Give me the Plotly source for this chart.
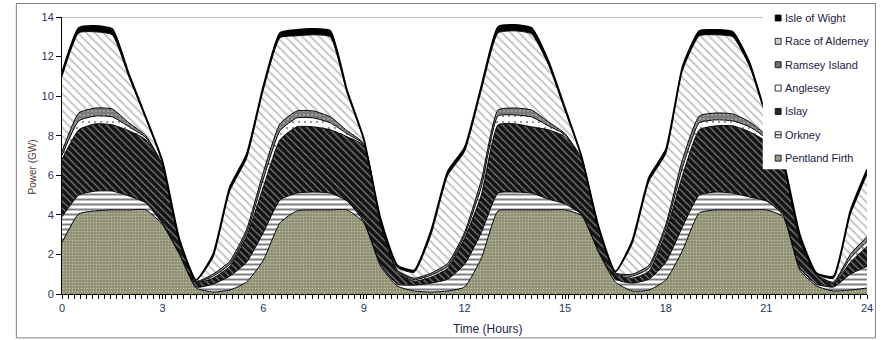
import plotly.graph_objects as go

hours = [0, 0.5, 1, 1.5, 2, 2.5, 3, 3.5, 4, 4.5, 5, 5.5, 6, 6.5, 7, 7.5, 8, 8.5,
         9, 9.5, 10, 10.5, 11, 11.5, 12, 12.5, 13, 13.5, 14, 14.5, 15, 15.5, 16,
         16.5, 17, 17.5, 18, 18.5, 19, 19.5, 20, 20.5, 21, 21.5, 22, 22.5, 23, 23.5, 24]

pentland = [2.6, 4.05, 4.2, 4.25, 4.25, 4.25, 3.5, 2.0, 0.3,
            0.1, 0.2, 0.6, 1.7, 3.6, 4.2, 4.25, 4.25, 4.25,
            3.6, 1.4, 0.4, 0.15, 0.1, 0.15, 0.35, 1.8, 4.2,
            4.25, 4.25, 4.25, 4.25, 3.95, 2.1, 0.6, 0.15, 0.2,
            0.7, 2.2, 4.1, 4.25, 4.25, 4.25, 4.25, 3.9, 1.2,
            0.4, 0.15, 0.2, 0.3]
orkney = [1.3, 0.95, 1.0, 0.95, 0.7, 0.35, 0.05, 0.05, 0.05,
          0.4, 0.7, 1.0, 1.4, 1.15, 0.9, 0.9, 0.85, 0.45,
          0.05, 0.1, 0.1, 0.3, 0.45, 0.6, 1.15, 1.3, 0.9,
          0.9, 0.85, 0.55, 0.3, 0.05, 0.05, 0.15, 0.4, 0.55,
          0.9, 1.2, 0.9, 0.9, 0.85, 0.65, 0.45, 0.1, 0.1,
          0.1, 0.2, 0.8, 1.1]
islay = [2.9, 3.3, 3.4, 3.35, 3.3, 3.2, 2.85, 0.55, 0.25,
         0.3, 0.5, 1.3, 2.3, 3.05, 3.35, 3.3, 3.2, 3.25,
         3.85, 2.0, 0.6, 0.2, 0.3, 0.55, 1.3, 1.9, 3.45,
         3.45, 3.35, 3.5, 3.4, 2.7, 1.05, 0.25, 0.25, 0.4,
         1.5, 2.6, 3.3, 3.35, 3.4, 3.3, 3.0, 2.5, 1.4,
         0.4, 0.15, 0.6, 1.0]
anglesey = [0.2, 0.45, 0.4, 0.4, 0.2, 0.1, 0.05, 0.03, 0.02,
            0.1, 0.1, 0.15, 0.4, 0.45, 0.45, 0.45, 0.35, 0.15,
            0.05, 0.05, 0.05, 0.07, 0.1, 0.1, 0.15, 0.4, 0.45,
            0.45, 0.5, 0.2, 0.1, 0.05, 0.05, 0.03, 0.1, 0.15,
            0.2, 0.4, 0.35, 0.3, 0.25, 0.25, 0.15, 0.05, 0.05,
            0.03, 0.05, 0.2, 0.25]
ramsey = [0.2, 0.4, 0.4, 0.4, 0.2, 0.1, 0.05, 0.03, 0.03,
          0.1, 0.15, 0.2, 0.35, 0.35, 0.35, 0.35, 0.3, 0.15,
          0.05, 0.05, 0.05, 0.08, 0.1, 0.15, 0.15, 0.35, 0.3,
          0.35, 0.35, 0.2, 0.05, 0.05, 0.05, 0.04, 0.1, 0.15,
          0.2, 0.4, 0.35, 0.35, 0.35, 0.25, 0.15, 0.05, 0.05,
          0.03, 0.05, 0.2, 0.25]
alderney = [3.8, 4.05, 3.85, 3.75, 2.3, 0.85, 0.1, 0.06, 0.05,
            0.85, 3.55, 3.6, 4.15, 4.35, 3.8, 3.85, 4.05, 1.9,
            0.15, 0.1, 0.15, 0.3, 1.95, 4.45, 4.1, 4.55, 3.9,
            3.9, 3.85, 2.9, 1.15, 0.05, 0.05, 0.05, 1.55, 4.25,
            3.6, 4.5, 4.05, 3.95, 3.9, 2.8, 0.9, 0.1, 0.1,
            0.04, 0.2, 2.0, 3.15]
wight = [0.2, 0.25, 0.3, 0.3, 0.15, 0.1, 0.1, 0.06, 0.02,
         0.15, 0.2, 0.2, 0.2, 0.25, 0.3, 0.3, 0.3, 0.15,
         0.1, 0.1, 0.1, 0.1, 0.2, 0.2, 0.2, 0.2, 0.3,
         0.3, 0.3, 0.2, 0.15, 0.05, 0.05, 0.03, 0.15, 0.2,
         0.2, 0.2, 0.25, 0.25, 0.25, 0.2, 0.1, 0.1, 0.1,
         0.05, 0.1, 0.2, 0.25]

names = ["Pentland Firth", "Orkney", "Islay", "Anglesey", "Ramsey Island",
         "Race of Alderney", "Isle of Wight"]
series = [pentland, orkney, islay, anglesey, ramsey, alderney, wight]

styles = [
    dict(fillcolor="#9a9a7e", fillpattern=dict(shape=".", bgcolor="#909074", fgcolor="#e4e4d0", size=3, solidity=0.25)),
    dict(fillcolor="white", fillpattern=dict(shape="-", bgcolor="white", fgcolor="black", size=5, solidity=0.4)),
    dict(fillcolor="#222222", fillpattern=dict(shape="\\", bgcolor="#141414", fgcolor="#f2f2f2", size=5, solidity=0.22)),
    dict(fillcolor="white", fillpattern=dict(shape=".", bgcolor="white", fgcolor="black", size=6, solidity=0.1)),
    dict(fillcolor="#7a7a7a", fillpattern=dict(shape=".", bgcolor="#7a7a7a", fgcolor="#cfcfcf", size=4, solidity=0.2)),
    dict(fillcolor="white", fillpattern=dict(shape="\\", bgcolor="white", fgcolor="#7c7c7c", size=6, solidity=0.3)),
    dict(fillcolor="black"),
]

fig = go.Figure()
for name, vals, st in zip(names, series, styles):
    fig.add_trace(go.Scatter(
        x=hours, y=vals, name=name, mode="lines", stackgroup="one",
        line=dict(color="black", width=1 if name != "Isle of Wight" else 1.6,
                  shape="spline", smoothing=0.5),
        showlegend=False, hoverinfo="skip", **st))

W, H = 883, 340
L, R, T, B = 62, 873, 16.5, 294


def px(xp):
    return (xp - L) / (R - L)


def py(yp):
    return (B - yp) / (B - T)


shapes = []
shapes.append(dict(type="line", xref="x", yref="y", x0=0, x1=24, y0=14, y1=14,
                   line=dict(color="#8a8a8a", width=1), layer="below"))
shapes.append(dict(type="rect", xref="paper", yref="paper", x0=px(768), x1=px(881),
                   y0=py(169), y1=py(5), fillcolor="white", line=dict(width=0), layer="above"))
shapes.append(dict(type="rect", xref="paper", yref="paper", x0=px(16), x1=px(881.5),
                   y0=py(338), y1=py(3), line=dict(color="#7f7f7f", width=1), layer="above"))

legend_order = ["Isle of Wight", "Race of Alderney", "Ramsey Island", "Anglesey",
                "Islay", "Orkney", "Pentland Firth"]
swatch = {"Isle of Wight": "black", "Race of Alderney": "#d0d0d0", "Ramsey Island": "#6e6e6e",
          "Anglesey": "white", "Islay": "#2a2a2a", "Orkney": "white", "Pentland Firth": "#9a9a80"}
annotations = []
for i, nm in enumerate(legend_order):
    yc = 17.5 + i * 23.4
    shapes.append(dict(type="rect", xref="paper", yref="paper", x0=px(780.5), x1=px(786.5),
                       y0=py(yc + 3), y1=py(yc - 3), fillcolor=swatch[nm],
                       line=dict(color="black", width=0.8), layer="above"))
    if nm == "Orkney":
        shapes.append(dict(type="line", xref="paper", yref="paper", x0=px(780.5), x1=px(786.5),
                           y0=py(yc), y1=py(yc), line=dict(color="black", width=1), layer="above"))
    annotations.append(dict(xref="paper", yref="paper", x=px(788.5), y=py(yc), text=nm,
                            showarrow=False, xanchor="left", yanchor="middle",
                            font=dict(size=11, color="#1c2140", family="Liberation Sans, Arial")))

annotations.append(dict(xref="paper", yref="paper", x=px(491), y=py(329), text="Time (Hours)",
                        showarrow=False, xanchor="center", yanchor="middle",
                        font=dict(size=12, color="#1c2448", family="Liberation Sans, Arial")))
annotations.append(dict(xref="paper", yref="paper", x=px(32), y=py(167), text="Power (GW)",
                        showarrow=False, textangle=-90, xanchor="center", yanchor="middle",
                        font=dict(size=10, color="#5a3434", family="Liberation Sans, Arial")))

fig.update_layout(
    width=W, height=H,
    margin=dict(l=L, r=W - R, t=T, b=H - B),
    paper_bgcolor="white", plot_bgcolor="white",
    showlegend=False,
    font=dict(family="Liberation Sans, Arial", size=11, color="#24345c"),
    shapes=shapes, annotations=annotations,
    xaxis=dict(range=[0, 24], tickmode="linear", tick0=0, dtick=3, showgrid=False, zeroline=False,
               showline=True, linecolor="black", linewidth=1, ticks="outside", ticklen=4,
               tickcolor="black", tickfont=dict(size=11, color="#24345c"),
               minor=dict(tick0=0, dtick=24 / 132, ticks="outside", ticklen=4, tickcolor="black",
                          showgrid=False)),
    yaxis=dict(range=[0, 14], tickmode="linear", tick0=0, dtick=2, showgrid=False, zeroline=False,
               showline=True, linecolor="black", linewidth=1, ticks="outside", ticklen=5,
               tickcolor="black", tickfont=dict(size=11, color="#24345c")),
)

fig.write_html("out.html", config={"displayModeBar": False},
               post_script="document.body.style.margin='0px';document.body.style.overflow='hidden';")
